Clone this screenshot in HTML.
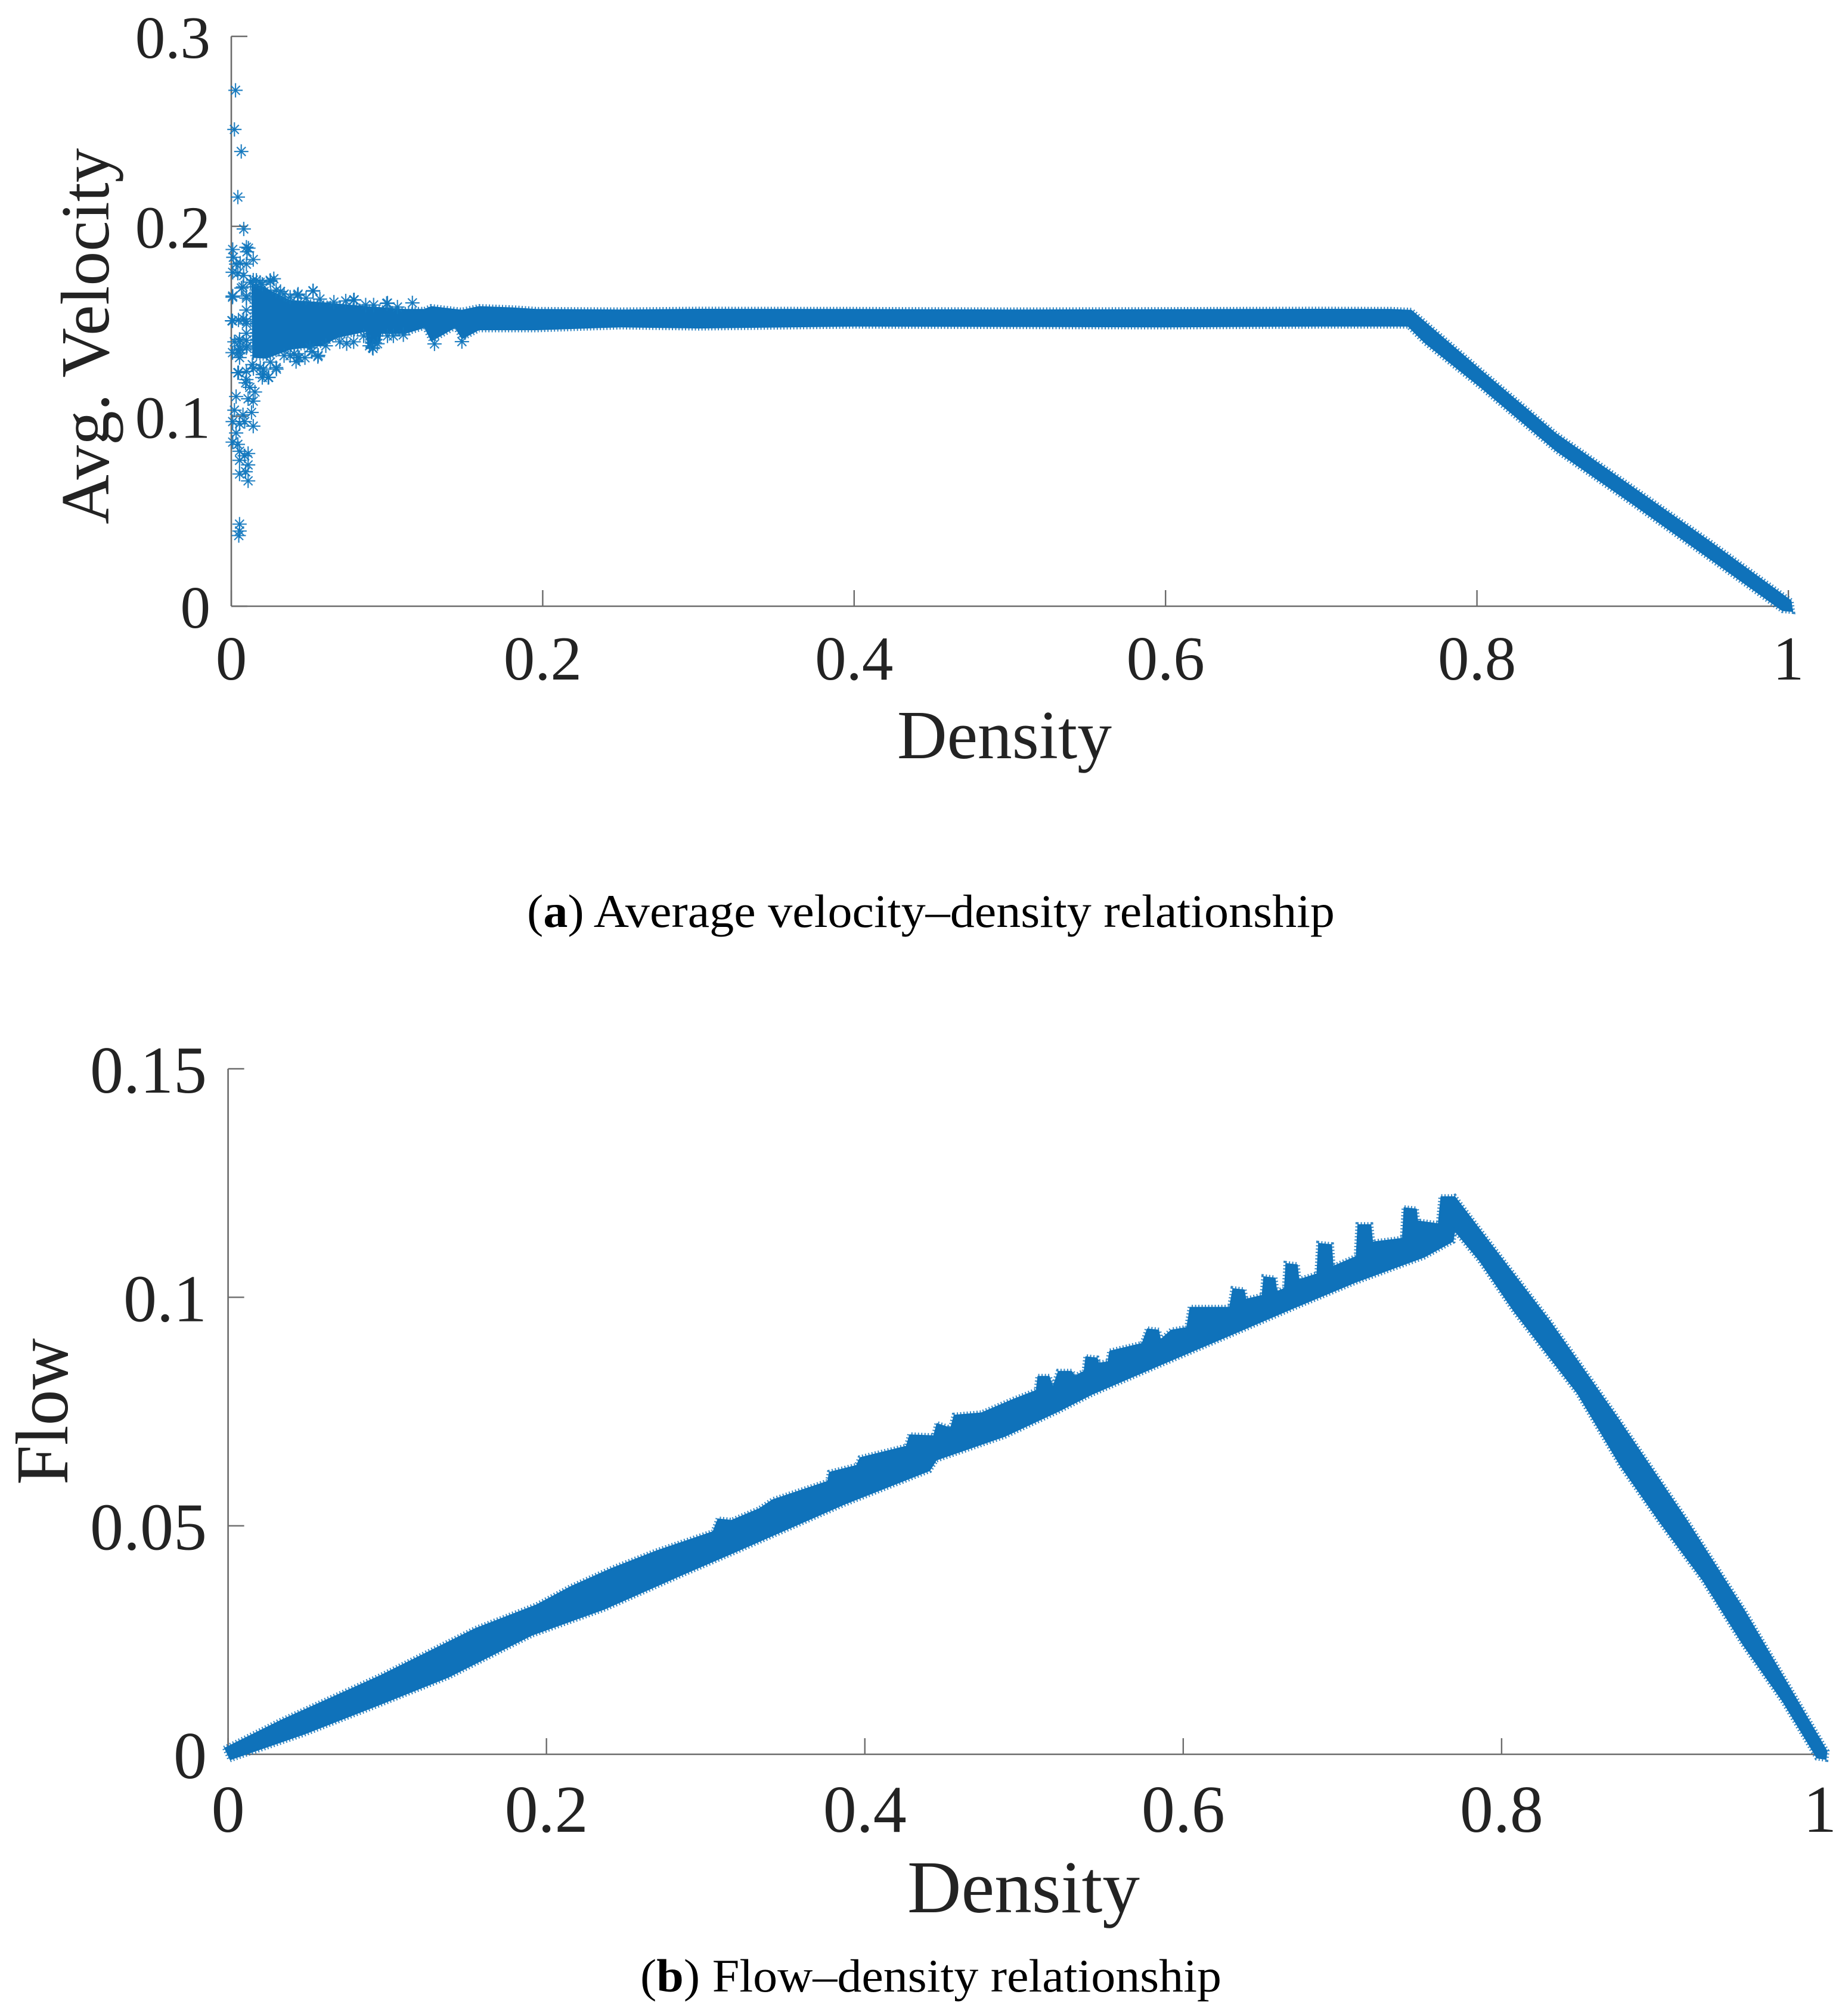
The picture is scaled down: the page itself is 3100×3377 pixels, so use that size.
<!DOCTYPE html>
<html lang="en">
<head>
<meta charset="utf-8">
<title>Velocity and flow versus density</title>
<style>
  html, body { margin: 0; padding: 0; background: #fff; }
  svg { display: block; }
  text { font-family: "Liberation Serif", "Times New Roman", serif; fill: #232323; }
  .axis { stroke: #6b6b6b; stroke-width: 2.6; fill: none; }
  .tick { stroke: #6b6b6b; stroke-width: 2.4; fill: none; }
</style>
</head>
<body>
<svg id="figure" xmlns="http://www.w3.org/2000/svg" width="3100" height="3377" viewBox="0 0 3100 3377">
  <rect x="0" y="0" width="3100" height="3377" fill="#ffffff"/>
  <g id="chart-a"></g>
  <g id="chart-b"></g>
  <text x="1685" y="1272" font-size="116" text-anchor="middle" textLength="360" lengthAdjust="spacingAndGlyphs">Density</text>
  <text transform="translate(182,564) rotate(-90)" font-size="116" text-anchor="middle" textLength="631" lengthAdjust="spacingAndGlyphs">Avg. Velocity</text>
  <text x="884" y="1555" font-size="78" style="fill:#000" textLength="1355" lengthAdjust="spacingAndGlyphs">(<tspan font-weight="bold">a</tspan>) Average velocity–density relationship</text>
  <text x="1717" y="3208" font-size="125" text-anchor="middle" textLength="390" lengthAdjust="spacingAndGlyphs">Density</text>
  <text transform="translate(113,2368) rotate(-90)" font-size="125" text-anchor="middle" textLength="246" lengthAdjust="spacingAndGlyphs">Flow</text>
  <text x="1074" y="3341" font-size="78" style="fill:#000" textLength="975" lengthAdjust="spacingAndGlyphs">(<tspan font-weight="bold">b</tspan>) Flow–density relationship</text>
</svg>
<script>
// ---- Chart (a): average velocity vs density ----
const velXTicks = [0, 0.2, 0.4, 0.6, 0.8, 1];
const velXTickLabels = ['0', '0.2', '0.4', '0.6', '0.8', '1'];
const velYTicks = [0, 0.1, 0.2, 0.3];
const velYTickLabels = ['0', '0.1', '0.2', '0.3'];

// Dense band outline, upper edge
const velUpperDensity = [0.0129,0.0199,0.0288,0.0378,0.0582,0.0863,0.1118,0.124,0.1284,0.1437,0.1481,0.1591,0.1811,0.196,0.25,0.3,0.4,0.5,0.6,0.7,0.745,0.758,0.7715,0.802,0.8507,0.8997,0.9483,1.002];
const velUpperValue = [0.1701,0.1685,0.1648,0.1612,0.1601,0.158,0.1565,0.1565,0.158,0.1565,0.1561,0.158,0.1573,0.1565,0.1562,0.1566,0.1565,0.1562,0.1564,0.1566,0.1565,0.156,0.1464,0.1249,0.0912,0.0631,0.0351,0.003];
// Dense band outline, lower edge
const velLowerDensity = [0.0135,0.0225,0.0378,0.0582,0.0684,0.0863,0.0875,0.0952,0.0965,0.1118,0.124,0.1284,0.1437,0.1481,0.1591,0.1811,0.196,0.25,0.3,0.4,0.5,0.6,0.7,0.7556,0.7665,0.802,0.8507,0.8997,0.9483,0.996,1.003];
const velLowerValue = [0.1308,0.1303,0.135,0.1371,0.1413,0.1444,0.1371,0.1382,0.1434,0.1434,0.1465,0.1393,0.1465,0.1405,0.1453,0.1453,0.1453,0.1468,0.1462,0.1472,0.147,0.1468,0.1472,0.1472,0.1384,0.1152,0.0816,0.0537,0.0254,-0.0025,-0.003];
// Individually visible scatter points at low density
const velPointDensity = [0.0027,0.002,0.0064,0.0042,0.008,0.0009,0.0013,0.0031,0.0097,0.011,0.0101,0.0141,0.0057,0.0097,0.0009,0.0042,0.0079,0.0009,0.0075,0.0004,0.0079,0.0053,0.0042,0.0053,0.0101,0.0042,0.0097,0.0202,0.024,0.029,0.0251,0.0031,0.0092,0.0119,0.0152,0.0141,0.0108,0.002,0.0075,0.013,0.0009,0.0053,0.0086,0.0141,0.0031,0.0009,0.0042,0.0053,0.0108,0.0086,0.0053,0.0108,0.0053,0.0092,0.0108,0.0053,0.0053,0.0048,0.0251,0.0426,0.0525,0.0789,0.0998,0.1163,0.0316,0.0141,0.0185,0.0273,0.0437,0.0558,0.091,0.1305,0.1481,0.0207,0.0097,0.0097,0.0097,0.025,0.0429,0.0525,0.0786,0.1003,0.0065,0.0008,0.0008,0.0046,0.0556,0.0429,0.0473,0.0288,0.0237,0.0199,0.0046,0.0097,0.0046,0.0052,0.0097,0.0741,0.0786,0.0907,0.1003,0.0097,0.0097,0.0142,0.0339,0.0097,0.0505,0.0403,0.0097,0.0059,0.002,0.0008,0.0123,0.0161,0.0199,0.0288,0.0339,0.0378,0.048,0.0569,0.0659,0.0735,0.0863,0.0914,0.1067,0.0135,0.0186,0.0378,0.0416,0.0518,0.0607,0.0697,0.085,0.0888,0.0939,0.1041,0.1105];
const velPointValue = [0.2716,0.251,0.2394,0.2154,0.1986,0.1878,0.1837,0.1801,0.189,0.1885,0.1866,0.1825,0.1806,0.1801,0.1758,0.1753,0.1741,0.1633,0.1681,0.1503,0.1513,0.1405,0.1349,0.1309,0.1369,0.1229,0.1236,0.122,0.1205,0.1248,0.1285,0.1104,0.1176,0.1152,0.1128,0.108,0.1092,0.1032,0.1008,0.102,0.0972,0.096,0.0972,0.0948,0.0912,0.0864,0.0852,0.0816,0.0804,0.0792,0.0768,0.0744,0.0696,0.0708,0.066,0.0432,0.0396,0.0372,0.171,0.1637,0.1661,0.1613,0.1594,0.1597,0.1657,0.1717,0.1705,0.1724,0.1309,0.1321,0.1357,0.1381,0.1393,0.1248,0.1633,0.15,0.14,0.1716,0.1643,0.1659,0.1612,0.1596,0.1675,0.1627,0.1502,0.1507,0.1314,0.1308,0.1308,0.1256,0.1204,0.1204,0.123,0.1193,0.1335,0.1392,0.1361,0.1382,0.1392,0.1361,0.1423,0.1486,0.1559,0.1251,0.1319,0.1622,0.1361,0.1329,0.1437,0.135,0.1392,0.1335,0.1706,0.1716,0.1695,0.1664,0.1643,0.1627,0.1622,0.1617,0.1601,0.1607,0.1586,0.1586,0.1575,0.1272,0.1256,0.1319,0.1288,0.134,0.1371,0.1392,0.1423,0.1371,0.1382,0.1423,0.1429];

// ---- Chart (b): flow vs density ----
const flowXTicks = [0, 0.2, 0.4, 0.6, 0.8, 1];
const flowXTickLabels = ['0', '0.2', '0.4', '0.6', '0.8', '1'];
const flowYTicks = [0, 0.05, 0.1, 0.15];
const flowYTickLabels = ['0', '0.05', '0.1', '0.15'];

const flowUpperDensity = [-0.0025,0.0335,0.0955,0.1552,0.1937,0.2152,0.241,0.2689,0.3044,0.3076,0.3162,0.3334,0.342,0.3764,0.3775,0.3946,0.3968,0.4258,0.428,0.443,0.4451,0.4537,0.4559,0.4731,0.4934,0.5074,0.5085,0.516,0.5181,0.5214,0.53,0.5321,0.5375,0.5386,0.5461,0.5472,0.5525,0.5536,0.574,0.5773,0.5848,0.5859,0.5923,0.602,0.6041,0.6289,0.631,0.6385,0.6396,0.6493,0.6504,0.6579,0.659,0.6633,0.6643,0.6719,0.6729,0.6837,0.6848,0.6934,0.6944,0.7084,0.7095,0.7181,0.7192,0.7374,0.7385,0.7467,0.7475,0.76,0.7617,0.7697,0.7706,0.7923,0.8308,0.8726,0.9161,0.9528,1.0047];
const flowUpperValue = [0.0014,0.0076,0.0173,0.0276,0.0328,0.0368,0.0408,0.0446,0.0488,0.0516,0.0513,0.0538,0.0558,0.0598,0.0618,0.0633,0.065,0.0675,0.07,0.0698,0.0725,0.0715,0.0743,0.0748,0.0778,0.0797,0.0828,0.0828,0.0807,0.0839,0.0839,0.0829,0.0839,0.0871,0.0868,0.0857,0.086,0.0883,0.09,0.0932,0.0929,0.0909,0.0929,0.0935,0.0979,0.0979,0.102,0.1017,0.0997,0.1005,0.1046,0.1043,0.1014,0.102,0.1075,0.1072,0.104,0.1052,0.1119,0.1116,0.1069,0.109,0.116,0.116,0.1122,0.113,0.1197,0.1194,0.1168,0.1162,0.1221,0.1221,0.1222,0.1122,0.0947,0.0739,0.0515,0.0315,0.0007];
const flowLowerDensity = [0.0012,0.0478,0.0955,0.1386,0.1911,0.2367,0.2861,0.3162,0.3871,0.4409,0.4451,0.4881,0.5214,0.5429,0.5837,0.633,0.6698,0.7084,0.7515,0.7698,0.7708,0.7858,0.8077,0.8475,0.8744,0.8995,0.926,0.9513,0.9764,0.9979,1.004];
const flowLowerValue = [-0.0013,0.0043,0.0108,0.0168,0.026,0.0317,0.0393,0.0438,0.0546,0.062,0.0643,0.0695,0.0749,0.0787,0.0848,0.0921,0.0976,0.1032,0.1087,0.1122,0.1143,0.108,0.0968,0.0789,0.0631,0.0506,0.0381,0.024,0.0115,-0.0009,-0.0012];

const SVGNS = 'http://www.w3.org/2000/svg';
const SERIES_COLOR = '#0f72ba';

function makeScale(d0, d1, r0, r1) {
  return function (v) { return r0 + (v - d0) / (d1 - d0) * (r1 - r0); };
}
function create(tag, attrs, parent) {
  const el = document.createElementNS(SVGNS, tag);
  for (const k in attrs) el.setAttribute(k, attrs[k]);
  parent.appendChild(el);
  return el;
}

function drawAxes(g, prefix, xs, ys, xTicks, xLabels, yTicks, yLabels, cfg) {
  const x0 = xs(xTicks[0]), x1 = xs(xTicks[xTicks.length - 1]);
  const y0 = ys(yTicks[0]), y1 = ys(yTicks[yTicks.length - 1]);
  const yAxis = create('line', { x1: x0, x2: x0, y1: y1, y2: y0, class: 'axis' }, g);
  
  
  const xAxis = create('line', { x1: x0, x2: x1, y1: y0, y2: y0, class: 'axis' }, g);
  
  
  xTicks.forEach(function (t, i) {
    const tick = create('line', { x1: xs(t), x2: xs(t), y1: y0, y2: y0 - cfg.tick, class: 'tick' }, g);
    
    
    const label = create('text', { x: xs(t), y: y0 + cfg.xLabelOffset, 'font-size': cfg.xFont, 'text-anchor': 'middle' }, g);
    label.textContent = xLabels[i];
    
    
  });
  yTicks.forEach(function (t, i) {
    const tick = create('line', { x1: x0, x2: x0 + cfg.tick, y1: ys(t), y2: ys(t), class: 'tick' }, g);
    
    
    const label = create('text', { x: cfg.yLabelRight, y: ys(t) + cfg.yLabelOffset, 'font-size': cfg.yFont, 'text-anchor': 'end' }, g);
    label.textContent = yLabels[i];
    
    
  });
}

function drawBand(g, name, xs, ys, upX, upY, loX, loY) {
  const pts = [];
  upX.forEach(function (d, i) { pts.push(xs(d).toFixed(1) + ',' + ys(upY[i]).toFixed(1)); });
  for (let i = loX.length - 1; i >= 0; i--) pts.push(xs(loX[i]).toFixed(1) + ',' + ys(loY[i]).toFixed(1));
  const poly = create('polygon', { points: pts.join(' '), fill: SERIES_COLOR, stroke: SERIES_COLOR, 'stroke-width': 7, 'stroke-dasharray': '2 3.5', 'stroke-opacity': 0.85 }, g);
  
  
}

function drawAsterisk(g, cx, cy, r) {
  const mark = create('g', { stroke: '#1177be', 'stroke-width': 2.2, 'stroke-opacity': 0.9 }, g);
  
  
  const d = r * 0.62;
  create('line', { x1: cx - r, x2: cx + r, y1: cy, y2: cy }, mark);
  create('line', { x1: cx, x2: cx, y1: cy - r, y2: cy + r }, mark);
  create('line', { x1: cx - d, x2: cx + d, y1: cy - d, y2: cy + d }, mark);
  create('line', { x1: cx - d, x2: cx + d, y1: cy + d, y2: cy - d }, mark);
}

// Chart (a)
const gA = document.getElementById('chart-a');
const xA = makeScale(0, 1, 388, 3000);
const yA = makeScale(0, 0.3, 1017, 61);
drawAxes(gA, 'velocity', xA, yA, velXTicks, velXTickLabels, velYTicks, velYTickLabels,
  { tick: 27, xLabelOffset: 123, xFont: 105, yFont: 101, yLabelRight: 353, yLabelOffset: 36 });
drawBand(gA, 'velocity-density-band', xA, yA, velUpperDensity, velUpperValue, velLowerDensity, velLowerValue);
velPointDensity.forEach(function (d, i) { drawAsterisk(gA, xA(d), yA(velPointValue[i]), 12); });

// Chart (b)
const gB = document.getElementById('chart-b');
const xB = makeScale(0, 1, 382.6, 3053);
const yB = makeScale(0, 0.15, 2943, 1793);
drawAxes(gB, 'flow', xB, yB, flowXTicks, flowXTickLabels, flowYTicks, flowYTickLabels,
  { tick: 27, xLabelOffset: 130, xFont: 112, yFont: 112, yLabelRight: 347, yLabelOffset: 40 });
drawBand(gB, 'flow-density-band', xB, yB, flowUpperDensity, flowUpperValue, flowLowerDensity, flowLowerValue);
</script>
</body>
</html>
